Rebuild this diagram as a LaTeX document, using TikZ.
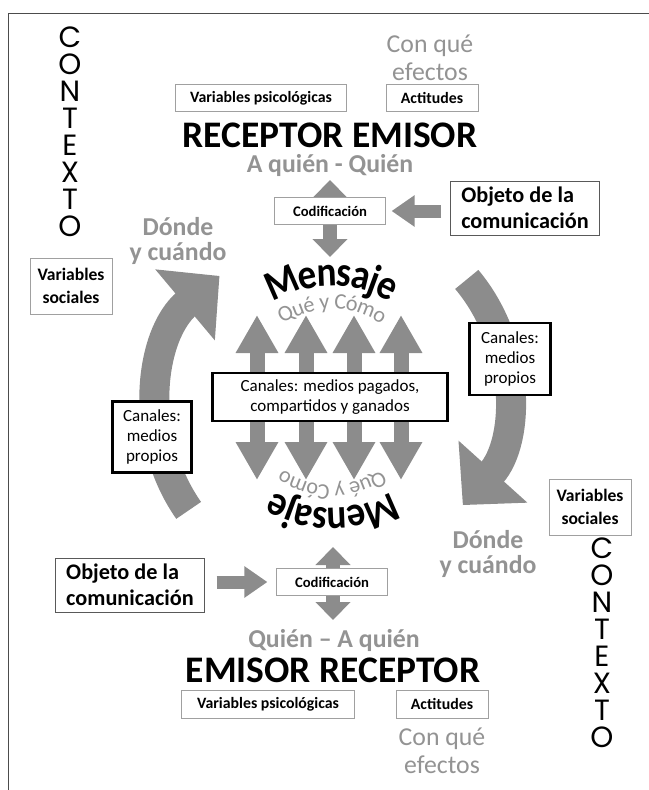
\documentclass[tikz,border=0pt]{standalone}
\usepackage{fontspec}
\setmainfont{Carlito}
\newfontfamily\geofont{Poppins}
\newfontfamily\archfont[FakeStretch=0.88]{Carlito}
\usetikzlibrary{arrows.meta,decorations.text,backgrounds}

\definecolor{arrgray}{HTML}{8C8C8C}
\definecolor{txtgray}{HTML}{939393}
\definecolor{boxgray}{HTML}{A0A0A0}

\tikzset{
  box/.style={draw=boxgray, line width=0.7pt, fill=white, inner sep=0pt,
    font=\fontsize{13.5}{16}\selectfont\bfseries},
  codbox/.style={box, minimum width=3.33cm, minimum height=0.8cm,
    font=\fontsize{12.5}{15}\selectfont\bfseries},
  socbox/.style={box, align=center, minimum width=2.46cm, minimum height=1.68cm,
    font=\fontsize{15}{20}\selectfont\bfseries},
  objbox/.style={draw=black!65, line width=0.7pt, fill=white, inner sep=0pt,
    align=left, minimum width=4.47cm, minimum height=1.62cm,
    font=\fontsize{19}{22}\selectfont\bfseries},
  chanbox/.style={draw=black, line width=1.8pt, fill=white, inner sep=0pt,
    align=center, font=\fontsize{14.5}{17}\selectfont},
  role/.style={inner sep=0pt, font=\fontsize{32}{36}\selectfont\bfseries},
  who/.style={inner sep=0pt, text=txtgray, font=\fontsize{22}{26}\selectfont\bfseries},
  effect/.style={inner sep=0pt, align=center, text=txtgray,
    font=\fontsize{22}{24}\selectfont},
  where/.style={inner sep=0pt, align=center, text=txtgray,
    font=\fontsize{22}{22}\selectfont\bfseries},
  ctx/.style={inner sep=0pt, align=center, font=\geofont\fontsize{25}{23}\selectfont},
  blockarrow/.style={draw=arrgray, line width=0.39cm, -{Triangle[width=0.9cm,length=0.69cm]}},
  dblarrow/.style={draw=arrgray, line width=0.42cm,
    {Triangle[width=1.02cm,length=0.54cm]}-{Triangle[width=1.02cm,length=0.54cm]}},
  chanarrow/.style={draw=arrgray, line width=0.45cm,
    {Triangle[width=1.2cm,length=1.14cm]}-{Triangle[width=1.2cm,length=1.14cm]}},
  cyclearrow/.style={draw=arrgray, line width=0.9cm, -{Triangle[width=2.7cm,length=1.35cm]}},
}

\begin{document}
\begin{tikzpicture}[x=0.03cm, y=0.03cm]
\useasboundingbox (0,0) rectangle (649,-790) ;
\draw[line width=0.8pt, black!70] (8,-790) -- (8,-13) -- (649,-13) ;

\draw (70,-132) node[ctx] (ctxa) {C\\O\\N\\T\\E\\X\\T\\O} ;
\draw (71,-286) node[socbox] (soca) {Variables\\sociales} ;
\draw (430,-58) node[effect] (efa) {Con qué\\efectos} ;
\draw (261,-98) node[box, minimum width=5.13cm, minimum height=0.8cm] (psa) {Variables psicológicas} ;
\draw (432,-98) node[box, minimum width=2.76cm, minimum height=0.8cm] (ata) {Actitudes} ;
\draw (330,-135) node[role] (rcv) {RECEPTOR EMISOR} ;
\draw (330,-165) node[who] (qa) {A quién - Quién} ;
\draw (330,-211) node[codbox] (coda) {Codificación} ;
\draw (525,-208) node[objbox] (oba) {Objeto de la\\comunicación} ;
\draw (178,-241) node[where] (wha) {Dónde\\y cuándo} ;

\draw (330,-397) node[chanbox, minimum width=7.05cm, minimum height=1.44cm] (chm) {Canales: medios pagados,\\compartidos y ganados} ;
\draw (152,-437) node[chanbox, minimum width=2.37cm, minimum height=2.13cm] (chl) {Canales:\\medios\\propios} ;
\draw (510,-359) node[chanbox, minimum width=2.43cm, minimum height=2.16cm] (chr) {Canales:\\medios\\propios} ;

\draw (602,-643) node[ctx] (ctxb) {C\\O\\N\\T\\E\\X\\T\\O} ;
\draw (590,-507) node[socbox] (socb) {Variables\\sociales} ;
\draw (442,-751) node[effect] (efb) {Con qué\\efectos} ;
\draw (268,-704) node[box, minimum width=5.19cm, minimum height=0.84cm] (psb) {Variables psicológicas} ;
\draw (442,-704) node[box, minimum width=2.76cm, minimum height=0.84cm] (atb) {Actitudes} ;
\draw (333,-670) node[role] (emi) {EMISOR RECEPTOR} ;
\draw (334,-640) node[who] (qb) {Quién – A quién} ;
\draw (332,-582) node[codbox] (codb) {Codificación} ;
\draw (130,-585) node[objbox] (obb) {Objeto de la\\comunicación} ;
\draw (488,-554) node[where] (whb) {Dónde\\y cuándo} ;

\draw[blockarrow, shorten <=0.27cm, shorten >=0.17cm] (oba.west |- coda.east) -- (coda.east) ;
\draw[blockarrow, shorten <=0.35cm, shorten >=0.26cm] (obb.east |- codb.west) -- (codb.west) ;

\begin{scope}[on background layer]
\coordinate (cyc) at (332,-397) ;
\coordinate (cyl) at (332,-410) ;
\coordinate (cyr) at (335,-390) ;
\draw[cyclearrow] ([shift={(215:175)}]cyl) arc[start angle=215, end angle=130, radius=175] ;
\draw[cyclearrow] ([shift={(40:172)}]cyr) arc[start angle=40, end angle=-42, radius=172] ;
\foreach \i/\x in {1/257,2/306,3/354,4/401} {
  \coordinate (up\i) at (\x,-315) ;
  \coordinate (dn\i) at (\x,-480) ;
  \draw[chanarrow] (dn\i) -- (up\i) ;
}
\coordinate (ta) at (330,-180) ;
\coordinate (tb) at (330,-257) ;
\draw[dblarrow] (ta) -- (tb) ;
\coordinate (ba) at (333,-547) ;
\coordinate (bb) at (333,-620) ;
\draw[dblarrow] (ba) -- (bb) ;
\end{scope}

\path[decorate, decoration={text along path, text align=center, raise=-0.3cm,
  text={|\archfont\bfseries\fontsize{36}{36}\selectfont|Mensaje}}]
  ([shift={(145:121)}]cyc) arc[start angle=145, end angle=35, radius=121] ;
\path[decorate, decoration={text along path, text align=center, raise=-0.18cm, text color=txtgray,
  text={|\fontsize{19}{19}\selectfont|Qué y Cómo}}]
  ([shift={(150:94)}]cyc) arc[start angle=150, end angle=30, radius=94] ;
\path[decorate, decoration={text along path, text align=center, raise=-0.3cm,
  text={|\archfont\bfseries\fontsize{36}{36}\selectfont|Mensaje}}]
  ([shift={(-35:121)}]cyc) arc[start angle=-35, end angle=-145, radius=121] ;
\path[decorate, decoration={text along path, text align=center, raise=-0.18cm, text color=txtgray,
  text={|\fontsize{19}{19}\selectfont|Qué y Cómo}}]
  ([shift={(-30:94)}]cyc) arc[start angle=-30, end angle=-150, radius=94] ;

\end{tikzpicture}
\end{document}
